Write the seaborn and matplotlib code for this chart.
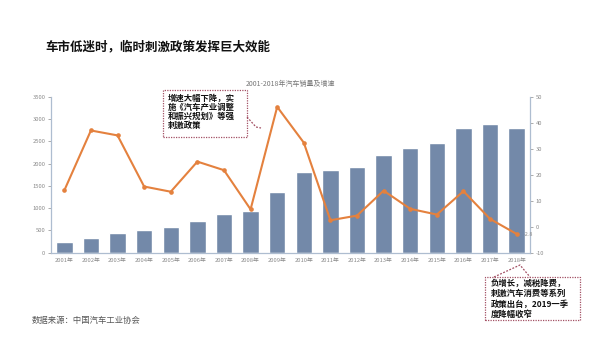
import matplotlib
matplotlib.use("Agg")
import matplotlib.pyplot as plt
from matplotlib.patches import Rectangle
from matplotlib.lines import Line2D
import seaborn as sns
import pandas as pd

years = [f"{y}年" for y in range(2001, 2019)]
sales = [236, 325, 439, 507, 576, 722, 879, 938, 1364, 1806,
         1851, 1931, 2198, 2349, 2460, 2803, 2888, 2808]
growth = [14.0, 37.1, 35.2, 15.5, 13.5, 25.1, 21.8, 6.7, 46.2, 32.4,
          2.5, 4.3, 13.9, 6.9, 4.7, 13.7, 3.0, -2.8]
left_ticks = [0, 500, 1000, 1500, 2000, 2500, 3000, 3500]
right_ticks = [-10, 0, 10, 20, 30, 40, 50]

df = pd.DataFrame({"year": years, "sales": sales, "growth": growth})

sns.set_theme(style="white")
plt.rcParams["font.family"] = ["Noto Sans CJK SC", "DejaVu Sans"]

W, H = 600, 348
fig = plt.figure(figsize=(6.0, 3.48), dpi=100)
fig.patch.set_facecolor("white")

def fx(px):
    return px / W

def fy(py):
    return 1 - py / H

ax = fig.add_axes([fx(51), fy(252.7), fx(530) - fx(51), fy(97) - fy(252.7)])

bar_color = "#7389a9"
line_color = "#e4813e"
axis_color = "#aebdd0"
tick_color = "#8a8a8a"

sns.barplot(data=df, x="year", y="sales", color=bar_color, width=0.62,
            saturation=1, ax=ax, zorder=2)
ax.set_ylim(0, 3500)
ax.set_xlim(-0.5, len(years) - 0.5)
ax.set_yticks(left_ticks)
ax.set_yticklabels([str(t) for t in left_ticks])
ax.set_xlabel("")
ax.set_ylabel("")

ax2 = ax.twinx()
sns.pointplot(data=df, x="year", y="growth", color=line_color, ax=ax2,
              markers="o", markersize=2.2, linewidth=1.5, zorder=3)
ax2.set_ylim(-10, 50)
ax2.set_xlim(-0.5, len(years) - 0.5)
ax2.set_yticks(right_ticks)
ax2.set_yticklabels([str(t) for t in right_ticks])
ax2.set_ylabel("")
ax2.set_xlabel("")

for a in (ax, ax2):
    for s in a.spines.values():
        s.set_visible(False)
    a.grid(False)
ax.spines["left"].set_visible(True)
ax.spines["left"].set_color(axis_color)
ax.spines["bottom"].set_visible(True)
ax.spines["bottom"].set_color(axis_color)
ax2.spines["right"].set_visible(True)
ax2.spines["right"].set_color(axis_color)
for s in ("left", "bottom"):
    ax.spines[s].set_linewidth(0.9)
ax2.spines["right"].set_linewidth(0.9)

ax.tick_params(axis="y", labelsize=4.2, colors=tick_color, length=2, width=0.5,
               pad=2, left=True)
ax.tick_params(axis="x", labelsize=4.2, colors=tick_color, length=0, pad=4)
ax2.tick_params(axis="y", labelsize=4.2, colors=tick_color, length=2, width=0.5,
                pad=2, right=True)
ax.set_xticks(range(len(years)))
ax.set_xticks([i + 0.5 for i in range(len(years) - 1)], minor=True)
ax.tick_params(axis="x", which="minor", length=2, width=0.5, color=axis_color)

# value tag at the last point
ax2.annotate(f"{growth[-1]}", xy=(len(years) - 1, growth[-1]), xytext=(5, 0),
             textcoords="offset points", fontsize=3.8, color=tick_color,
             va="center", ha="left")

# chart titles
fig.text(fx(45), fy(47), "车市低迷时，临时刺激政策发挥巨大效能", fontsize=9,
         fontweight="bold", color="#111111", ha="left", va="center")
fig.text(fx(290), fy(84), "2001-2018年汽车销量及增速", fontsize=5,
         color="#777777", ha="center", va="center")
fig.text(fx(32), fy(320), "数据来源：中国汽车工业协会", fontsize=6,
         color="#555555", ha="left", va="center")

# callout boxes
box_edge = "#a35064"

def callout(x0, y0, x1, y1, lines, tx, ty, step, tail):
    rect = Rectangle((fx(x0), fy(y1)), fx(x1) - fx(x0), fy(y0) - fy(y1),
                     transform=fig.transFigure, facecolor="white",
                     edgecolor=box_edge, linewidth=0.9, linestyle=(0, (1, 1)),
                     zorder=5)
    fig.add_artist(rect)
    for i, line in enumerate(lines):
        fig.text(fx(tx), fy(ty + i * step), line, fontsize=6.0,
                 fontweight="bold", color="#111111", ha="left", va="center",
                 zorder=6)
    xs = [fx(p[0]) for p in tail]
    ys = [fy(p[1]) for p in tail]
    fig.add_artist(Line2D(xs, ys, transform=fig.transFigure, color=box_edge,
                          linewidth=0.9, linestyle=(0, (1.5, 1.2)), zorder=5))

callout(163, 90, 247, 137,
        ["增速大幅下降，实", "施《汽车产业调整", "和振兴规划》等强", "刺激政策"],
        168, 98, 9.2, [(247, 117), (256, 127), (261, 128)])
callout(485, 277, 580, 320,
        ["负增长，减税降费，", "刺激汽车消费等系列", "政策出台，2019一季", "度降幅收窄"],
        491, 283, 10.6, [(494, 277), (520, 265), (530, 277)])

fig.savefig("out.png", dpi=100, facecolor="white")
